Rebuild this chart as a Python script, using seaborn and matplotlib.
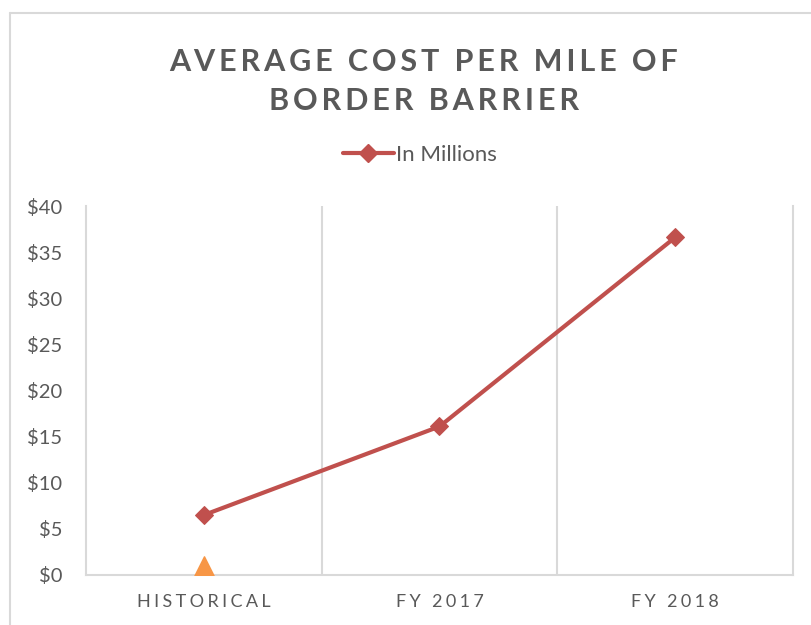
import seaborn as sns
import matplotlib.pyplot as plt
import pandas as pd
from matplotlib.lines import Line2D
from matplotlib.ticker import StrMethodFormatter, FixedLocator

# Data (in millions of dollars per mile)
periods = ['HISTORICAL', 'FY 2017', 'FY 2018']
cost_millions = [6.5, 16.1, 36.6]
# small orange triangle sitting near zero at HISTORICAL
triangle_period = ['HISTORICAL']
triangle_value = [1.0]

df = pd.DataFrame({'Period': periods, 'Cost': cost_millions})
tri = pd.DataFrame({'Period': triangle_period, 'Cost': triangle_value})

GRAY_TXT = '#595959'
GRID = '#D9D9D9'
RED = '#C0504D'
ORANGE = '#F79646'


def spaced(s, sep='\u200a'):
    return sep.join(s)


sns.set_style("white")
plt.rcParams['font.family'] = ['Lato', 'DejaVu Sans']

fig = plt.figure(figsize=(8.12, 6.25), dpi=100)
ax = fig.add_axes([86 / 812, 50 / 625, (793 - 86) / 812, (575 - 206) / 625])

sns.lineplot(data=df, x='Period', y='Cost', sort=False, ax=ax,
             color=RED, linewidth=3, marker='D', markersize=9,
             markeredgecolor=RED, label='In Millions', legend=False)
sns.scatterplot(data=tri, x='Period', y='Cost', ax=ax, marker='^',
                s=190, color=ORANGE, edgecolor=ORANGE, legend=False, zorder=3)

ax.set_xlim(-0.5, 2.5)
ax.set_ylim(0, 40)
ax.set_yticks(range(0, 41, 5))
ax.yaxis.set_major_formatter(StrMethodFormatter('${x:.0f}'))
ax.set_xticks(range(len(periods)))
ax.set_xticklabels([spaced(p, '\u2009\u200a') for p in periods])
ax.xaxis.set_minor_locator(FixedLocator([0.5, 1.5]))
ax.grid(False)
ax.grid(True, which='minor', axis='x', color=GRID, linewidth=1.5)
ax.set_xlabel('')
ax.set_ylabel('')

for side in ['left', 'right', 'bottom']:
    ax.spines[side].set_color(GRID)
    ax.spines[side].set_linewidth(1.5)
ax.spines['top'].set_visible(False)

ax.tick_params(axis='y', length=0, pad=17, labelsize=14.5, labelcolor=GRAY_TXT)
ax.tick_params(axis='x', which='both', length=0, pad=14, labelsize=13,
               labelcolor=GRAY_TXT)

# Title (letter spaced)
fig.text(424 / 812, 1 - 62 / 625, spaced('AVERAGE COST PER MILE OF', '\u2009'),
         ha='center', va='center', fontsize=22, fontweight='bold', color=GRAY_TXT)
fig.text(424 / 812, 1 - 101 / 625, spaced('BORDER BARRIER', '\u2009'),
         ha='center', va='center', fontsize=22, fontweight='bold', color=GRAY_TXT)

# Legend
handle = Line2D([], [], color=RED, linewidth=3, marker='D', markersize=9)
fig.legend([handle], ['In Millions'], loc='center',
           bbox_to_anchor=(420 / 812, 1 - 155 / 625), frameon=False,
           fontsize=16, handlelength=2.3, handletextpad=0.1,
           labelcolor=GRAY_TXT)

# Chart frame (partly cropped in the reference)
fig.add_artist(Line2D([10 / 812, 10 / 812], [0, 1 - 13 / 625],
                      transform=fig.transFigure, color=GRID, linewidth=1.5))
fig.add_artist(Line2D([10 / 812, 1], [1 - 13 / 625, 1 - 13 / 625],
                      transform=fig.transFigure, color=GRID, linewidth=1.5))

plt.savefig("out.png", dpi=100)
